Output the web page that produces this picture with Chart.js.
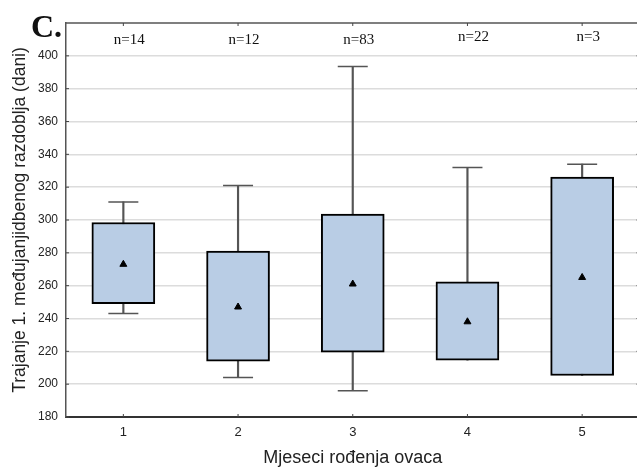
<!DOCTYPE html>
<html>
<head>
<meta charset="utf-8">
<script src="https://cdn.jsdelivr.net/npm/chart.js@4.4.1/dist/chart.umd.min.js"></script>
<style>
  html, body { margin: 0; padding: 0; background: #fff; overflow: hidden; }
  #chart { display: block; }
</style>
</head>
<body>
<canvas id="chart" width="656" height="469"></canvas>
<script>
// birth months of the ewes
const months = [1, 2, 3, 4, 5];
const counts = [14, 12, 83, 22, 3];
const q1 = [249, 214, 219.5, 214.6, 205.3];
const q3 = [298.5, 281, 303.6, 262.4, 326.2];
const whiskerMin = [243, 204, 196, 214.6, 205.3];
const whiskerMax = [311, 321, 393.5, 332, 334];
const means = [273, 247, 261, 238, 265];
const yTicks = [180, 200, 220, 240, 260, 280, 300, 320, 340, 360, 380, 400];

const caps = [];
months.forEach((m, i) => {
    caps.push({ x: m, y: whiskerMax[i] });
    if (whiskerMin[i] < q1[i]) caps.push({ x: m, y: whiskerMin[i] });
});

const extras = {
    id: "extras",
    afterDraw(chart) {
        const ctx = chart.ctx;
        const a = chart.chartArea;
        const x = chart.scales.x, y = chart.scales.y;
        ctx.save();
        // top frame line
        ctx.strokeStyle = "#555";
        ctx.lineWidth = 1.5;
        ctx.beginPath();
        ctx.moveTo(a.left, a.top);
        ctx.lineTo(a.right, a.top);
        ctx.stroke();
        // inner ticks
        ctx.lineWidth = 1;
        ctx.strokeStyle = "#444";
        yTicks.forEach(v => {
            const py = y.getPixelForValue(v);
            ctx.beginPath();
            ctx.moveTo(a.left, py);
            ctx.lineTo(a.left + 3, py);
            ctx.moveTo(a.right, py);
            ctx.lineTo(a.right - 3, py);
            ctx.stroke();
        });
        months.forEach(m => {
            const px = x.getPixelForValue(m);
            ctx.beginPath();
            ctx.moveTo(px, a.bottom);
            ctx.lineTo(px, a.bottom - 3);
            ctx.moveTo(px, a.top);
            ctx.lineTo(px, a.top + 3);
            ctx.stroke();
        });
        // n labels
        ctx.fillStyle = "#111";
        ctx.font = "15px 'Liberation Serif'";
        ctx.textAlign = "center";
        ctx.textBaseline = "middle";
        months.forEach((m, i) => {
            ctx.fillText("n=" + counts[i], x.getPixelForValue(m) + 6, y.getPixelForValue(i < 3 ? 409.5 : 411.5));
        });
        // panel letter
        ctx.font = "bold 32px 'Liberation Serif'";
        ctx.textAlign = "left";
        ctx.textBaseline = "alphabetic";
        ctx.fillText("C.", 31, 37);
        ctx.restore();
    }
};

new Chart(document.getElementById("chart"), {
    type: "bar",
    data: {
        datasets: [
            {
                type: "scatter",
                data: months.map((m, i) => ({ x: m, y: means[i] })),
                pointStyle: "triangle",
                radius: 4,
                backgroundColor: "#000",
                borderColor: "#000",
                borderWidth: 1,
                order: 0
            },
            {
                type: "scatter",
                data: caps,
                pointStyle: "line",
                radius: 15,
                borderColor: "#555",
                borderWidth: 1.5,
                order: 1
            },
            {
                data: months.map((m, i) => ({ x: m, y: [q1[i], q3[i]] })),
                backgroundColor: "#b9cde5",
                borderColor: "#000",
                borderWidth: 2,
                borderSkipped: false,
                barThickness: 63,
                grouped: false,
                order: 2
            },
            {
                data: months.map((m, i) => ({ x: m, y: [whiskerMin[i], whiskerMax[i]] })),
                backgroundColor: "#555",
                borderWidth: 0,
                barThickness: 1.5,
                grouped: false,
                order: 3
            }
        ]
    },
    options: {
        responsive: false,
        animation: false,
        layout: { padding: { top: 23, right: 0, bottom: 0, left: 0 } },
        plugins: {
            legend: { display: false },
            tooltip: { enabled: false }
        },
        scales: {
            x: {
                type: "linear",
                offset: false,
                min: 0.5,
                max: 5.5,
                afterBuildTicks: s => { s.ticks = months.map(v => ({ value: v })); },
                afterFit: s => { s.height = 52; },
                grid: { display: false, drawTicks: false, offset: false },
                border: { color: "#333", width: 2 },
                ticks: { color: "#222", font: { family: "Liberation Sans", size: 13 }, padding: 8 },
                title: {
                    display: true,
                    text: "Mjeseci rođenja ovaca",
                    color: "#222",
                    font: { family: "Liberation Sans", size: 18 },
                    padding: { top: 4, bottom: 0 }
                }
            },
            y: {
                min: 180,
                max: 420,
                afterBuildTicks: s => { s.ticks = yTicks.map(v => ({ value: v })); },
                afterFit: s => { s.width = 66; },
                grid: { color: "#dcdcdc", lineWidth: 1.5, drawTicks: false },
                border: { color: "#555", width: 1.5 },
                ticks: { color: "#222", font: { family: "Liberation Sans", size: 12 }, padding: 8 },
                title: {
                    display: true,
                    text: "Trajanje 1. međujanjidbenog razdoblja (dani)",
                    color: "#222",
                    font: { family: "Liberation Sans", size: 17.5 },
                    padding: { top: 10, bottom: 6 }
                }
            }
        }
    },
    plugins: [extras]
});
</script>
</body>
</html>
